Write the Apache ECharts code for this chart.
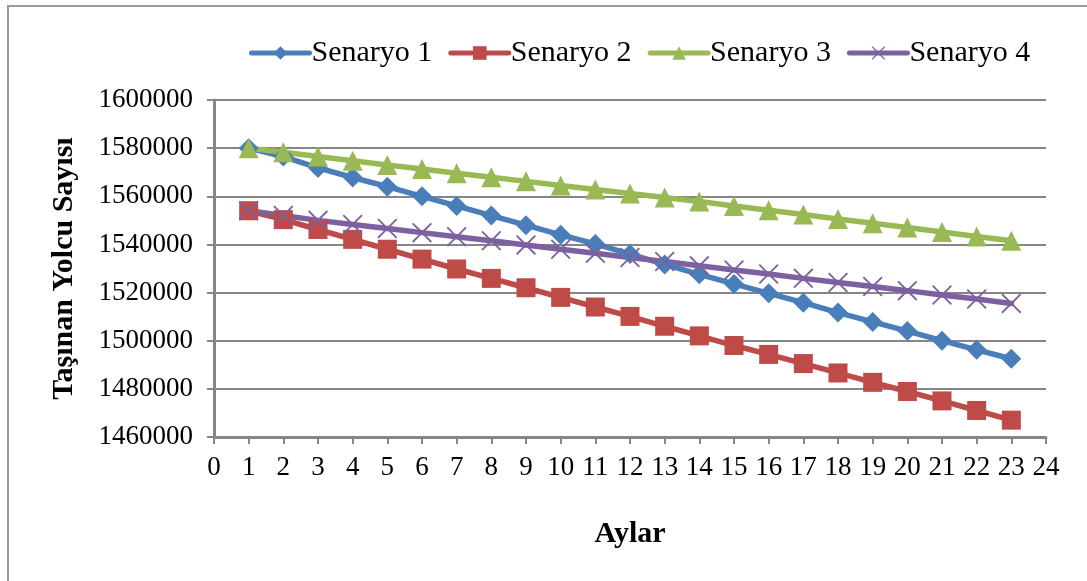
<!DOCTYPE html>
<html>
<head>
<meta charset="utf-8">
<script src="https://cdn.jsdelivr.net/npm/echarts@6/dist/echarts.min.js"></script>
<style>
  html, body { margin: 0; padding: 0; background: #ffffff; }
  #chart { width: 1087px; height: 581px; }
</style>
</head>
<body>
<div id="chart"></div>
<script>
// Months on the horizontal axis
const months = [1, 2, 3, 4, 5, 6, 7, 8, 9, 10, 11, 12, 13, 14, 15, 16, 17, 18, 19, 20, 21, 22, 23];

// Carried passengers per scenario
const senaryo1 = [1580000, 1576500, 1571800, 1567800, 1564000, 1560000, 1556000, 1552000, 1548000, 1544000, 1540200, 1536000,
                  1531700, 1527600, 1523600, 1519700, 1515800, 1511700, 1507800, 1504000, 1500000, 1496200, 1492500];
const senaryo2 = [1554000, 1550300, 1546200, 1542100, 1538000, 1533900, 1529800, 1525900, 1522000, 1518000, 1514000, 1510100,
                  1506000, 1502000, 1498000, 1494300, 1490500, 1486600, 1482700, 1478900, 1475000, 1471000, 1467000];
const senaryo3 = [1580000, 1578300, 1576500, 1574800, 1573000, 1571300, 1569600, 1567900, 1566200, 1564500, 1562800, 1561200,
                  1559500, 1557800, 1556000, 1554200, 1552400, 1550600, 1548800, 1547000, 1545200, 1543300, 1541500];
const senaryo4 = [1554000, 1552000, 1550000, 1548300, 1546600, 1544900, 1543200, 1541500, 1539800, 1538000, 1536300, 1534600,
                  1532900, 1531100, 1529400, 1527700, 1525900, 1524200, 1522500, 1520800, 1519000, 1517300, 1515500];

const seriesNames = ['Senaryo 1', 'Senaryo 2', 'Senaryo 3', 'Senaryo 4'];
const xTitle = 'Aylar';
const yTitle = 'Taşınan Yolcu Sayısı';

const serif = '"Liberation Serif", "Times New Roman", serif';
const gridGray = '#868686';

// X-shaped marker drawn as a thin filled outline
const crossPath = 'path://M0,1.3 L1.3,0 L10,8.7 L18.7,0 L20,1.3 L11.3,10 L20,18.7 L18.7,20 L10,11.3 L1.3,20 L0,18.7 L8.7,10 Z';

function pairs(values) {
  return months.map((m, i) => [m, values[i]]);
}

function lineSeries(name, values, color, symbol, size) {
  return {
    name: name,
    type: 'line',
    data: pairs(values),
    symbol: symbol,
    symbolSize: size,
    showAllSymbol: true,
    lineStyle: { color: color, width: 5.5, cap: 'round' },
    itemStyle: { color: color, borderWidth: 0 },
    emphasis: { disabled: true },
    animation: false
  };
}

const chart = echarts.init(document.getElementById('chart'), null, { renderer: 'canvas' });

chart.setOption({
  backgroundColor: '#ffffff',
  animation: false,
  graphic: [{
    type: 'rect',
    shape: { x: 8, y: 6, width: 1100, height: 600 },
    style: { fill: 'none', stroke: '#9a9a9a', lineWidth: 2 },
    silent: true,
    z: -1
  }],
  legend: {
    data: seriesNames,
    left: 244,
    top: 33,
    itemWidth: 58,
    itemHeight: 17,
    itemGap: 16,
    lineStyle: { width: 5, cap: 'round' },
    textStyle: { fontFamily: serif, fontSize: 30, color: '#000000', padding: [0, 0, 0, -3] }
  },
  grid: { left: 214, right: 41, top: 100, bottom: 144, containLabel: false },
  xAxis: {
    type: 'value',
    min: 0,
    max: 24,
    interval: 1,
    name: xTitle,
    nameLocation: 'middle',
    nameGap: 82,
    nameTextStyle: { fontFamily: serif, fontSize: 30, fontWeight: 'bold', color: '#000000' },
    axisLine: { show: true, onZero: false, lineStyle: { color: gridGray, width: 3 } },
    axisTick: { show: true, length: 7, lineStyle: { color: gridGray, width: 2 } },
    axisLabel: { fontFamily: serif, fontSize: 27, color: '#000000', margin: 17 },
    splitLine: { show: false }
  },
  yAxis: {
    type: 'value',
    min: 1460000,
    max: 1600000,
    interval: 20000,
    name: yTitle,
    nameLocation: 'middle',
    nameGap: 135,
    nameRotate: 90,
    nameTextStyle: { fontFamily: serif, fontSize: 30, fontWeight: 'bold', color: '#000000' },
    axisLine: { show: true, lineStyle: { color: gridGray, width: 3 } },
    axisTick: { show: true, length: 7, lineStyle: { color: gridGray, width: 2 } },
    axisLabel: {
      fontFamily: serif, fontSize: 27, color: '#000000', margin: 21,
      formatter: v => String(v)
    },
    splitLine: { show: true, lineStyle: { color: gridGray, width: 2 } }
  },
  series: [
    lineSeries(seriesNames[0], senaryo1, '#4A7EBB', 'diamond', 20),
    lineSeries(seriesNames[1], senaryo2, '#BE4B48', 'rect', 19),
    lineSeries(seriesNames[2], senaryo3, '#98B954', 'triangle', 20),
    lineSeries(seriesNames[3], senaryo4, '#7D60A0', crossPath, 20)
  ]
});
</script>
</body>
</html>
